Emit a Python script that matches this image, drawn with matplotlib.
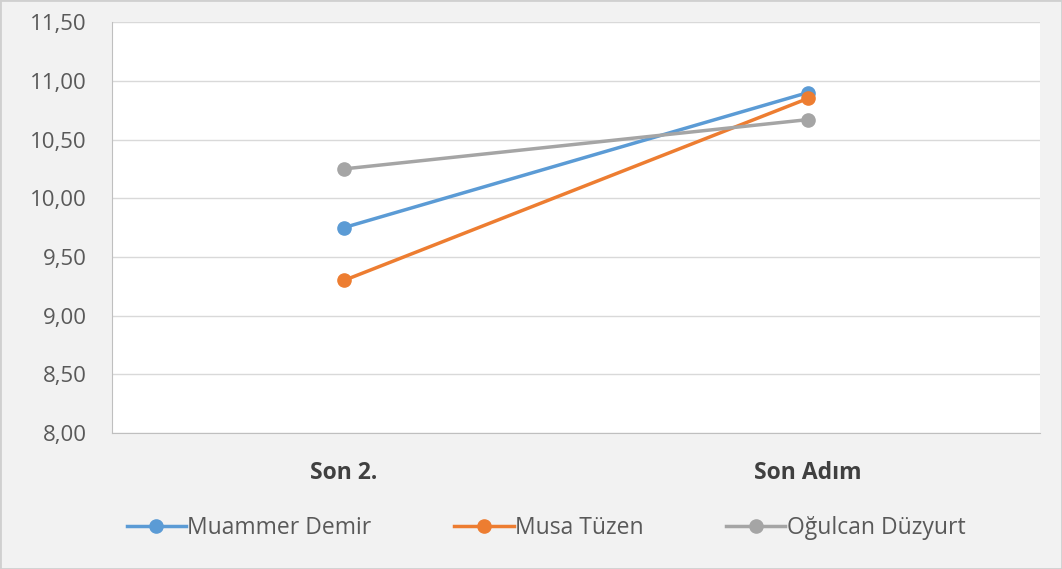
import matplotlib.pyplot as plt
from matplotlib.ticker import FuncFormatter

categories = ["Son 2.", "Son Adım"]
muammer = [9.75, 10.90]
musa = [9.30, 10.85]
ogulcan = [10.25, 10.67]
names = ["Muammer Demir", "Musa Tüzen", "Oğulcan Düzyurt"]
yticks = [8.0, 8.5, 9.0, 9.5, 10.0, 10.5, 11.0, 11.5]

colors = ["#5B9BD5", "#ED7D31", "#A5A5A5"]

plt.rcParams['font.family'] = ['Open Sans', 'DejaVu Sans']

fig = plt.figure(figsize=(10.62, 5.69), dpi=100, facecolor="#f2f2f2")
ax = fig.add_axes([0.1055, 0.239, 0.8735, 0.722])
ax.set_facecolor("white")

x = range(len(categories))
for series, name, color in zip([muammer, musa, ogulcan], names, colors):
    ax.plot(x, series, color=color, linewidth=2.5, marker="o",
            markersize=9.5, label=name, zorder=3)

ax.set_xlim(-0.5, 1.5)
ax.set_ylim(8.0, 11.5)
ax.set_yticks(yticks)
ax.yaxis.set_major_formatter(FuncFormatter(lambda v, p: f"{v:.2f}".replace(".", ",")))
ax.set_xticks(list(x))
ax.set_xticklabels(categories, fontsize=16.5, fontweight="bold", color="#404040")

ax.grid(axis="y", color="#d9d9d9", linewidth=1)
ax.set_axisbelow(True)
for side in ["top", "right"]:
    ax.spines[side].set_visible(False)
for side in ["left", "bottom"]:
    ax.spines[side].set_color("#bfbfbf")
ax.tick_params(axis="y", length=0, labelsize=16, labelcolor="#595959", pad=18)
ax.tick_params(axis="x", length=0, pad=20)

fig.legend(loc="lower center", bbox_to_anchor=(0.514, 0.015), ncol=3, frameon=False,
           fontsize=16.5, handlelength=2.6, columnspacing=3.6, handletextpad=0.05,
           labelcolor="#595959")

fig.patches.append(plt.Rectangle((0, 0), 1, 1, transform=fig.transFigure,
                                 fill=False, edgecolor="#d0d0d0", linewidth=2))

fig.savefig("out.png", dpi=100, facecolor=fig.get_facecolor())
